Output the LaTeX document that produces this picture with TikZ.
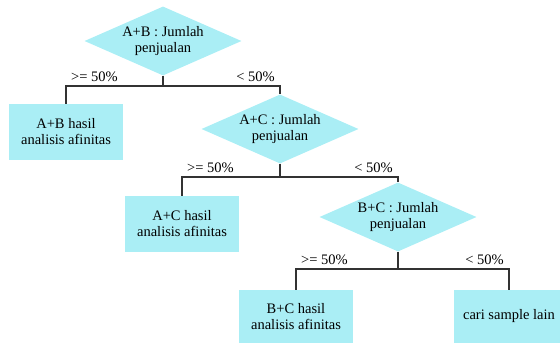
\documentclass[tikz,border=0pt]{standalone}
\usepackage{fontspec}
\setmainfont{Liberation Serif}
\usetikzlibrary{shapes.geometric}
\definecolor{kotak}{RGB}{170,238,245}
\definecolor{garis}{RGB}{50,50,50}
\tikzset{
  cek/.style={diamond, fill=kotak, inner sep=0pt, aspect=2.27,
    minimum width=157pt, minimum height=69pt, align=center},
  hasil/.style={rectangle, fill=kotak, minimum width=114pt,
    minimum height=56pt, align=center},
  cabang/.style={draw=garis, line width=1.2pt},
  ket/.style={inner xsep=5pt, inner ysep=4pt}
}
\begin{document}
\begin{tikzpicture}[x=1pt,y=-1pt,font={\fontsize{14.5}{16}\selectfont}]
  \useasboundingbox (0,0) rectangle (560,343);
  % keputusan dan hasil
  \node[cek] (d1) at (163,41) {A+B : Jumlah\\penjualan};
  \node[hasil] (b1) at (66,132) {A+B hasil\\analisis afinitas};
  \node[cek] (d2) at (280,129) {A+C : Jumlah\\penjualan};
  \node[hasil] (b2) at (182,224) {A+C hasil\\analisis afinitas};
  \node[cek] (d3) at (398,217) {B+C : Jumlah\\penjualan};
  \node[hasil, minimum height=53pt] (b3) at (296,316.5) {B+C hasil\\analisis afinitas};
  \node[hasil, minimum height=53pt, minimum width=110pt] (b4) at (509,316.5) {cari sample lain};
  % percabangan
  \coordinate (k1) at (163,86);
  \coordinate (k2) at (280,177);
  \coordinate (k3) at (398,269);
  \draw[cabang] (d1.south) -- (k1);
  \draw[cabang] (b1.north) |- (k1) -| (d2.north);
  \draw[cabang] (d2.south) -- (k2);
  \draw[cabang] (b2.north) |- (k2) -| (d3.north);
  \draw[cabang] (d3.south) -- (k3);
  \draw[cabang] (b3.north) |- (k3) -| (b4.north);
  % label cabang
  \node[ket, above right] (y1) at (b1.north |- k1) {>= 50\%};
  \node[ket, above left] (n1) at (d2.north |- k1) {< 50\%};
  \node[ket, above right] (y2) at (b2.north |- k2) {>= 50\%};
  \node[ket, above left] (n2) at (d3.north |- k2) {< 50\%};
  \node[ket, above right] (y3) at (b3.north |- k3) {>= 50\%};
  \node[ket, above left] (n3) at (b4.north |- k3) {< 50\%};
\end{tikzpicture}
\end{document}
